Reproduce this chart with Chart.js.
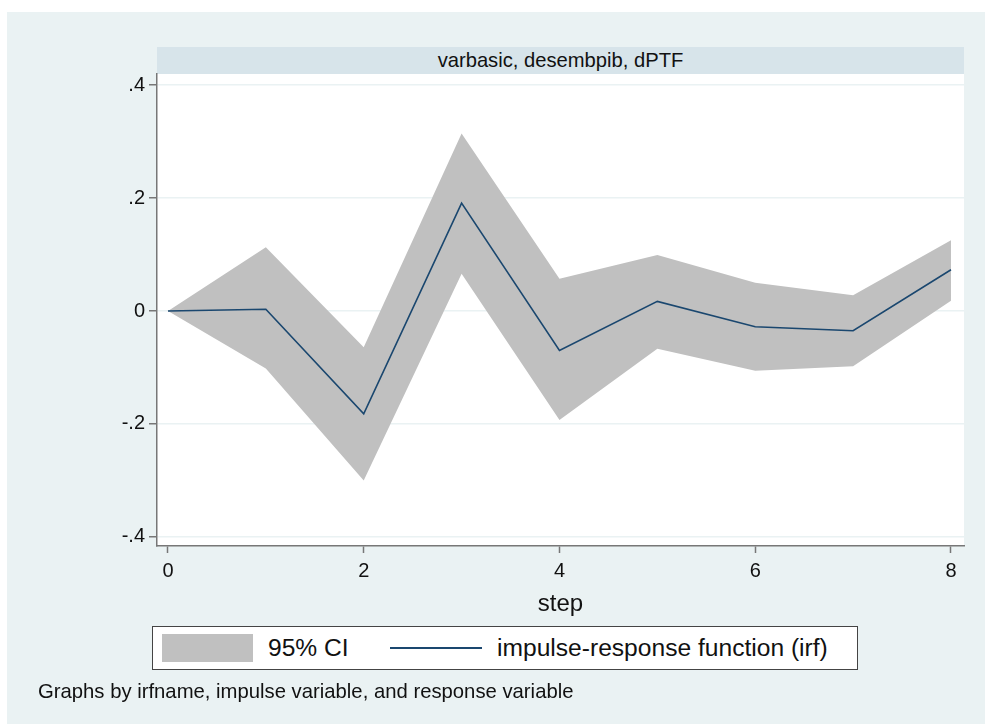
<!DOCTYPE html>
<html>
<head>
<meta charset="utf-8">
<script src="https://cdn.jsdelivr.net/npm/chart.js@4.4.1/dist/chart.umd.min.js"></script>
<style>
	body { margin: 0; background: #fff; font-family: 'Liberation Sans', Arial, sans-serif; }
	#wrap { position: relative; width: 985px; height: 724px; overflow: hidden; }
	#bg { position: absolute; left: 7px; top: 12px; right: 0; bottom: 0; background: #eaf2f3; }
	#strip { position: absolute; left: 157px; top: 47px; width: 807px; height: 27px; background: #d7e4ea; font-size: 20.2px; line-height: 27px; text-align: center; color: #111; }
	#chart { position: absolute; left: 0; top: 0; }
	#legend { position: absolute; left: 152px; top: 626px; width: 704px; height: 42px; background: #fff; border: 1px solid #444; font-size: 24.6px; color: #111; }
	#legend .ci { position: absolute; left: 9px; top: 7px; width: 91px; height: 28px; background: #c0c0c0; }
	#legend .ln { position: absolute; left: 237px; top: 20px; width: 92px; height: 2px; background: #1a476f; }
	#legend span { position: absolute; top: 6px; line-height: 30px; white-space: nowrap; }
	#note { position: absolute; left: 38px; top: 679px; font-size: 20.3px; line-height: 24px; color: #111; white-space: nowrap; }
</style>
</head>
<body>
<div id="wrap">
	<div id="bg"></div>
	<div id="strip">varbasic, desembpib, dPTF</div>
	<canvas id="chart" width="985" height="724"></canvas>
	<div id="legend">
		<div class="ci"></div><span style="left:115px">95% CI</span>
		<div class="ln"></div><span style="left:344px">impulse-response function (irf)</span>
	</div>
	<div id="note">Graphs by irfname, impulse variable, and response variable</div>
</div>
<script>
// values
const steps = [0, 1, 2, 3, 4, 5, 6, 7, 8]
const irf = [0, 0.003, -0.182, 0.191, -0.070, 0.017, -0.028, -0.035, 0.073]
const ciUpper = [0, 0.113, -0.064, 0.314, 0.057, 0.099, 0.050, 0.028, 0.125]
const ciLower = [0, -0.102, -0.300, 0.066, -0.193, -0.067, -0.106, -0.098, 0.018]
const xTicks = [0, 2, 4, 6, 8]
const yTicks = [-0.4, -0.2, 0, 0.2, 0.4]

function points(values) {
	return steps.map((s, i) => ({ x: s, y: values[i] }))
}

// stata style labels: .2, -.4
function stataLabel(v) {
	if (Math.abs(v) < 1e-9) return '0'
	return String(Math.round(v * 10) / 10).replace('0.', '.')
}

const plotBg = {
	id: 'plotBg',
	beforeDraw: function(chart) {
		const a = chart.chartArea
		const ctx = chart.ctx
		ctx.save()
		ctx.fillStyle = '#fff'
		ctx.fillRect(a.left, a.top, a.right - a.left, a.bottom - a.top)
		ctx.restore()
	}
}

const tickFont = { family: "'Liberation Sans', Arial, sans-serif", size: 20 }

new Chart(document.getElementById('chart'), {
	type: 'line',
	data: {
		datasets: [
			{
				label: 'impulse-response function (irf)',
				data: points(irf),
				borderColor: '#1a476f',
				borderWidth: 1.6,
				pointRadius: 0,
				fill: false
			},
			{
				label: '95% CI',
				data: points(ciUpper),
				borderWidth: 0,
				borderColor: 'rgba(0,0,0,0)',
				backgroundColor: '#c0c0c0',
				pointRadius: 0,
				fill: '+1'
			},
			{
				label: 'lower',
				data: points(ciLower),
				borderWidth: 0,
				borderColor: 'rgba(0,0,0,0)',
				pointRadius: 0,
				fill: false
			}
		]
	},
	options: {
		responsive: false,
		animation: false,
		devicePixelRatio: 1,
		layout: { padding: { left: 97, right: 21, top: 74, bottom: 105 } },
		plugins: { legend: { display: false }, tooltip: { enabled: false } },
		scales: {
			x: {
				type: 'linear',
				min: -0.112,
				max: 8.133,
				afterFit: function(scale) { scale.height = 73 },
				afterBuildTicks: function(scale) { scale.ticks = xTicks.map(v => ({ value: v })) },
				ticks: { font: tickFont, color: '#111', padding: 6, callback: v => String(v) },
				grid: { drawOnChartArea: false, tickLength: 7, tickColor: '#777', tickWidth: 1.5 },
				border: { display: true, color: '#777', width: 1.5 },
				title: {
					display: true,
					text: 'step',
					color: '#111',
					font: { family: "'Liberation Sans', Arial, sans-serif", size: 24 },
					padding: { top: 0, bottom: 0 }
				}
			},
			y: {
				min: -0.416,
				max: 0.4195,
				afterFit: function(scale) { scale.width = 60 },
				afterBuildTicks: function(scale) { scale.ticks = yTicks.map(v => ({ value: v })) },
				ticks: { font: tickFont, color: '#111', padding: 4, callback: v => stataLabel(v) },
				grid: { color: '#eaf2f3', lineWidth: 1.5, tickLength: 8, tickColor: '#777', tickWidth: 1.5 },
				border: { display: true, color: '#777', width: 1.5 }
			}
		}
	},
	plugins: [plotBg]
})
</script>
</body>
</html>
